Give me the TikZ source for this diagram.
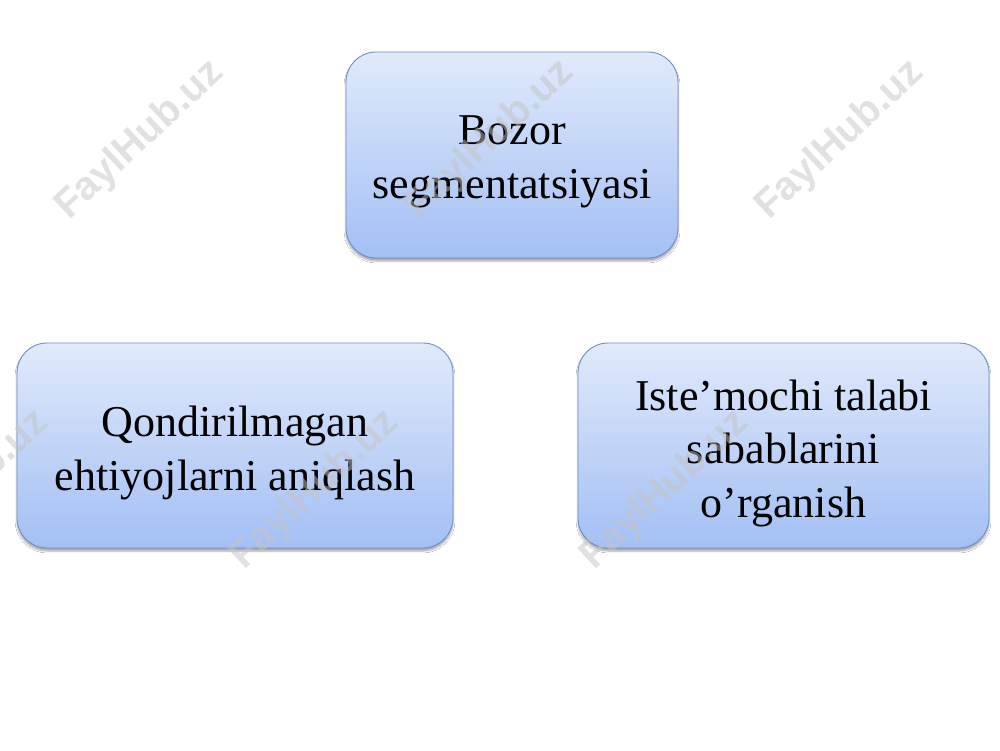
\documentclass[tikz,border=0pt]{standalone}
\usepackage{fontspec}
\setmainfont{Liberation Serif}
\newfontfamily\wmfont{Liberation Sans}
\usetikzlibrary{shadows.blur}
\definecolor{boxborder}{HTML}{6F8FCB}
\definecolor{boxtop}{HTML}{E0EAFB}
\definecolor{boxbot}{HTML}{A3BFF4}
\definecolor{wmgray}{HTML}{C4C4C4}
\tikzset{
  segbox/.style={draw=boxborder, line width=0.9pt, rounded corners=30pt,
    top color=boxtop, bottom color=boxbot,
    blur shadow={shadow xshift=0pt, shadow yshift=-3pt, shadow blur steps=6, shadow opacity=35},
    inner sep=0pt},
  boxtext/.style={align=center, inner sep=0pt,
    font=\fontsize{44}{53.5}\selectfont},
  watermark/.style={rotate=43, text=wmgray, opacity=0.5,
    font=\wmfont\bfseries\fontsize{40}{40}\selectfont}
}
\begin{document}
\begin{tikzpicture}[x=1pt,y=-1pt]
\useasboundingbox (0,0) rectangle (1000,750);
\fill[white] (0,0) rectangle (1000,750);
\node[segbox, minimum width=332pt, minimum height=206pt] (top) at (512,155) {};
\node[segbox, minimum width=436pt, minimum height=205pt] (left) at (235,445.5) {};
\node[segbox, minimum width=411pt, minimum height=205pt] (right) at (783.5,445.5) {};
\node[boxtext] (toptext) at (512,162) {Bozor\\segmentatsiyasi};
\node[boxtext] (lefttext) at (235,453) {Qondirilmagan\\ehtiyojlarni aniqlash};
\node[boxtext] (righttext) at (783.5,453) {Iste’mochi talabi\\sabablarini\\o’rganish};
\node[watermark] (w1) at (140,140) {FaylHub.uz};
\node[watermark] (w2) at (490,140) {FaylHub.uz};
\node[watermark] (w3) at (840,140) {FaylHub.uz};
\node[watermark] (w4) at (-35,490) {FaylHub.uz};
\node[watermark] (w5) at (315,490) {FaylHub.uz};
\node[watermark] (w6) at (665,490) {FaylHub.uz};
\end{tikzpicture}
\end{document}
